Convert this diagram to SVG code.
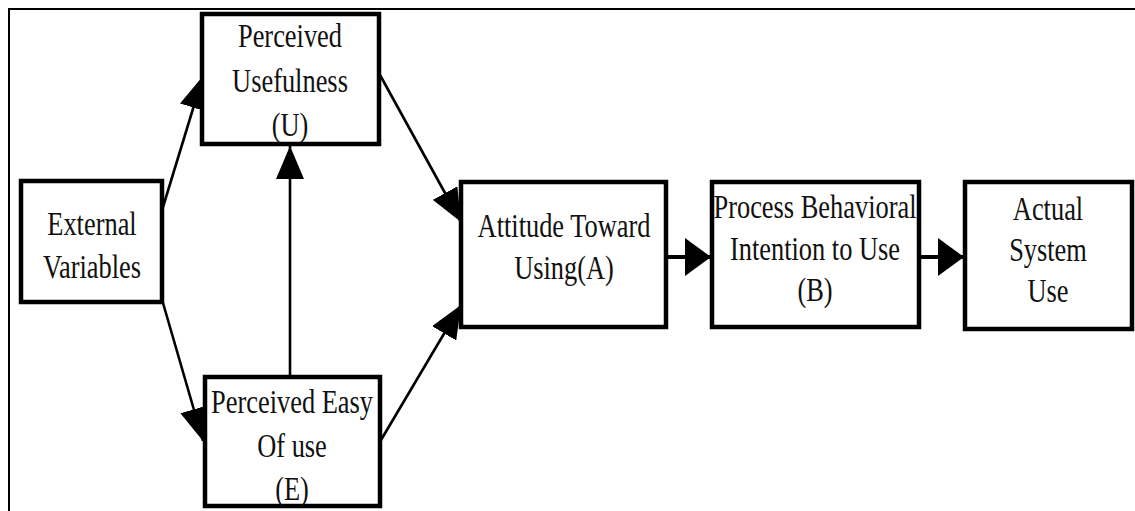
<svg xmlns="http://www.w3.org/2000/svg" width="1135" height="511" viewBox="0 0 1135 511">
  <style>
    .box { fill: #fff; stroke: #000; stroke-width: 4.5; }
    .lbl { font-family: "Times New Roman", Tinos, "Liberation Serif", "DejaVu Serif", serif; font-size: 33px; fill: #111; text-anchor: middle; }
    .edge { stroke: #000; stroke-width: 2.6; fill: none; }
    .edge-h { stroke: #000; stroke-width: 4; fill: none; }
    .frame { stroke: #000; stroke-width: 2; fill: none; }
  </style>
  <defs>
    <marker id="head" markerUnits="userSpaceOnUse" markerWidth="34" markerHeight="28" refX="33" refY="14" orient="auto">
      <path d="M0,0 L33,14 L0,28 Z" fill="#000"/>
    </marker>
    <marker id="head-h" markerUnits="userSpaceOnUse" markerWidth="27" markerHeight="38" refX="26" refY="19" orient="auto">
      <path d="M0,0 L26,19 L0,38 Z" fill="#000"/>
    </marker>
  </defs>

  <rect width="1135" height="511" fill="#fff"/>
  <!-- page frame: only top and left edges -->
  <path class="frame" d="M9,511 L9,9 L1135,9"/>

  <!-- connectors -->
  <g id="connectors">
    <line class="edge" x1="163" y1="207" x2="203" y2="76" marker-end="url(#head)"/>
    <line class="edge" x1="163" y1="303" x2="203" y2="441" marker-end="url(#head)"/>
    <line class="edge" x1="290" y1="377" x2="290" y2="146" marker-end="url(#head)"/>
    <line class="edge" x1="380" y1="75" x2="461" y2="222" marker-end="url(#head)"/>
    <line class="edge" x1="381" y1="440" x2="461" y2="305" marker-end="url(#head)"/>
    <line class="edge-h" x1="667" y1="257" x2="711" y2="257" marker-end="url(#head-h)"/>
    <line class="edge-h" x1="920" y1="257" x2="964" y2="257" marker-end="url(#head-h)"/>
  </g>

  <g id="perceived-usefulness">
    <rect class="box" x="202" y="14" width="177" height="130"/>
    <g transform="translate(290,0) scale(0.8,1)">
      <text class="lbl"><tspan x="0" y="47">Perceived</tspan><tspan x="0" y="92">Usefulness</tspan><tspan x="0" y="136">(U)</tspan></text>
    </g>
  </g>

  <g id="external-variables">
    <rect class="box" x="21" y="181" width="141" height="121"/>
    <g transform="translate(92,0) scale(0.8,1)">
      <text class="lbl"><tspan x="0" y="235">External</tspan><tspan x="0" y="278">Variables</tspan></text>
    </g>
  </g>

  <g id="perceived-ease">
    <rect class="box" x="205" y="377" width="175" height="129"/>
    <g transform="translate(292,0) scale(0.8,1)">
      <text class="lbl"><tspan x="0" y="413">Perceived Easy</tspan><tspan x="0" y="457">Of use</tspan><tspan x="0" y="500">(E)</tspan></text>
    </g>
  </g>

  <g id="attitude">
    <rect class="box" x="461" y="182" width="205" height="145"/>
    <g transform="translate(564,0) scale(0.8,1)">
      <text class="lbl"><tspan x="0" y="237">Attitude Toward</tspan><tspan x="0" y="279">Using(A)</tspan></text>
    </g>
  </g>

  <g id="behavioral-intention">
    <rect class="box" x="712" y="182" width="207" height="145"/>
    <g transform="translate(815,0) scale(0.8,1)">
      <text class="lbl"><tspan x="0" y="218">Process Behavioral</tspan><tspan x="0" y="260">Intention to Use</tspan><tspan x="0" y="301">(B)</tspan></text>
    </g>
  </g>

  <g id="actual-use">
    <rect class="box" x="965" y="182" width="167" height="147"/>
    <g transform="translate(1048,0) scale(0.8,1)">
      <text class="lbl"><tspan x="0" y="220">Actual</tspan><tspan x="0" y="261">System</tspan><tspan x="0" y="302">Use</tspan></text>
    </g>
  </g>
</svg>
